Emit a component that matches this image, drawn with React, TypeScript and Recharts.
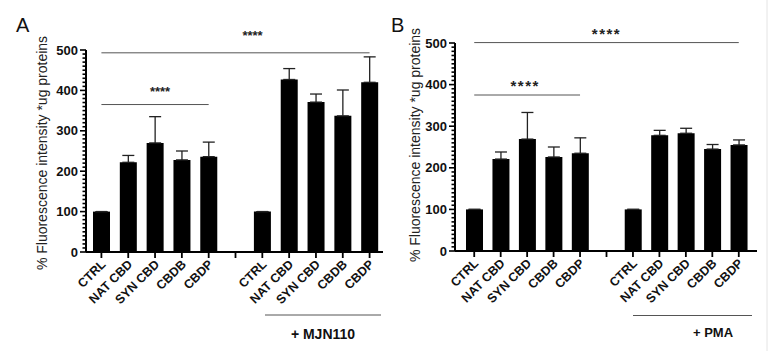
import React from "react";
import { BarChart, Bar, XAxis, YAxis, ErrorBar, ReferenceLine } from "recharts";

const categories = ["CTRL", "NAT CBD", "SYN CBD", "CBDB", "CBDP", "", "CTRL", "NAT CBD", "SYN CBD", "CBDB", "CBDP"];

// panel A (+ MJN110)
const meansA = [100, 222, 270, 228, 236, null, 100, 427, 371, 337, 420];
const errA = [0, 17, 65, 22, 36, 0, 0, 27, 20, 64, 63];

// panel B (+ PMA)
const meansB = [100, 221, 269, 226, 235, null, 100, 278, 283, 245, 255];
const errB = [0, 17, 64, 24, 37, 0, 0, 12, 12, 11, 12];

const yTicks = Array.from({ length: 51 }, (_, i) => i * 10);

const FONT = "'Liberation Sans', Arial, sans-serif";

const buildRows = (means: (number | null)[], errs: number[]) =>
  categories.map((label, i) => ({ key: `c${i}`, label, value: means[i], err: [0, errs[i]] }));

const YTick = (props: any) => {
  const { x, y, payload } = props;
  const v = payload.value;
  const major = v % 100 === 0;
  return (
    <g>
      <line x1={x - (major ? 6 : 3.5)} x2={x} y1={y} y2={y} stroke="#000" strokeWidth={1.6} />
      {major && (
        <text x={x - 8} y={y + 4.5} textAnchor="end" fontSize={13} fontWeight="bold" fontFamily={FONT} fill="#111">
          {v}
        </text>
      )}
    </g>
  );
};

const XTick = (props: any) => {
  const { x, y, payload } = props;
  const idx = Number(String(payload.value).slice(1));
  const label = categories[idx];
  return (
    <g>
      <line x1={x} x2={x} y1={y} y2={y + 6} stroke="#000" strokeWidth={1.8} />
      <text
        x={x + 5}
        y={y + 13}
        textAnchor="end"
        transform={`rotate(-45 ${x + 5} ${y + 13})`}
        fontSize={12.5}
        fontWeight="bold"
        fontFamily={FONT}
        fill="#111"
      >
        {label}
      </text>
    </g>
  );
};

const starsLabel = (dx: number, dy: number, size: number, spacing: number) => (p: any) => {
  const vb = p.viewBox || {};
  const cx = (vb.x ?? 0) + (vb.width ?? 0) / 2 + dx;
  return (
    <text x={cx} y={(vb.y ?? 0) - dy} textAnchor="middle" fontSize={size} fontWeight="bold" letterSpacing={spacing} fontFamily={FONT} fill="#222">
      ****
    </text>
  );
};

type PanelProps = {
  rows: any[];
  left: number;
  width: number;
  margin: { top: number; right: number; left: number; bottom: number };
  pad: { left: number; right: number };
  topY: number;
  lowY: number;
  lowEnd: string;
  topStars: (p: any) => React.ReactNode;
  lowStars: (p: any) => React.ReactNode;
};

const Panel = ({ rows, left, width, margin, pad, topY, lowY, lowEnd, topStars, lowStars }: PanelProps) => (
  <div style={{ position: "absolute", left, top: 0 }}>
    <BarChart width={width} height={351} data={rows} margin={margin} barSize={17}>
      <XAxis
        dataKey="key"
        interval={0}
        height={60}
        padding={pad}
        tickSize={0}
        tickMargin={0}
        tickLine={false}
        axisLine={{ stroke: "#000", strokeWidth: 2 }}
        tick={<XTick />}
      />
      <YAxis
        width={40}
        domain={[0, 500]}
        ticks={yTicks}
        interval={0}
        tickSize={0}
        tickMargin={0}
        tickLine={false}
        axisLine={{ stroke: "#000", strokeWidth: 2 }}
        tick={<YTick />}
      />
      <ReferenceLine
        segment={[{ x: "c0", y: topY }, { x: "c10", y: topY }]}
        stroke="#555"
        strokeWidth={1}
        ifOverflow="visible"
        label={topStars}
      />
      <ReferenceLine
        segment={[{ x: "c0", y: lowY }, { x: lowEnd, y: lowY }]}
        stroke="#555"
        strokeWidth={1}
        ifOverflow="visible"
        label={lowStars}
      />
      <Bar dataKey="value" fill="#000" isAnimationActive={false}>
        <ErrorBar dataKey="err" direction="y" width={6} stroke="#222" strokeWidth={1.3} isAnimationActive={false} />
      </Bar>
    </BarChart>
  </div>
);

export default function App() {
  const rowsA = buildRows(meansA, errA);
  const rowsB = buildRows(meansB, errB);
  const yLabel = "% Fluorescence intensity *ug proteins";
  return (
    <div style={{ position: "fixed", left: 0, top: 0, width: 771, height: 351, background: "#fff", overflow: "hidden" }}>
      <Panel
        rows={rowsA}
        left={0}
        width={390}
        margin={{ top: 50, right: 7, left: 46, bottom: 39 }}
        pad={{ left: 2, right: 0 }}
        topY={493}
        lowY={365}
        lowEnd="c4"
        topStars={starsLabel(17, 13, 13, 0)}
        lowStars={starsLabel(5, 9, 13, 0)}
      />
      <Panel
        rows={rowsB}
        left={385}
        width={386}
        margin={{ top: 43, right: 14, left: 30, bottom: 40 }}
        pad={{ left: 6, right: 5 }}
        topY={501}
        lowY={375}
        lowEnd="c4"
        topStars={starsLabel(0, 4, 15, 1.5)}
        lowStars={starsLabel(-2, 4, 15, 1.5)}
      />
      <svg width={771} height={351} style={{ position: "absolute", left: 0, top: 0, pointerEvents: "none" }}>
        <g fontFamily={FONT}>
          <text x={16} y={32} fontSize={20} fill="#111">A</text>
          <text x={391} y={32} fontSize={20} fill="#111">B</text>
          <text transform="translate(47 153) rotate(-90)" textAnchor="middle" fontSize={14} fill="#222">
            {yLabel}
          </text>
          <text transform="translate(420 145) rotate(-90)" textAnchor="middle" fontSize={14} fill="#222">
            {yLabel}
          </text>
          <line x1={265} x2={381} y1={315} y2={315} stroke="#555" strokeWidth={1} />
          <text x={323} y={339} textAnchor="middle" fontSize={14} fontWeight="bold" fill="#111">+ MJN110</text>
          <line x1={633} x2={752} y1={315.5} y2={315.5} stroke="#555" strokeWidth={1} />
          <text x={713} y={337} textAnchor="middle" fontSize={13} fontWeight="bold" fill="#111">+ PMA</text>
          <line x1={767} x2={767} y1={0} y2={351} stroke="#e4e4e4" strokeWidth={1} />
        </g>
      </svg>
    </div>
  );
}
